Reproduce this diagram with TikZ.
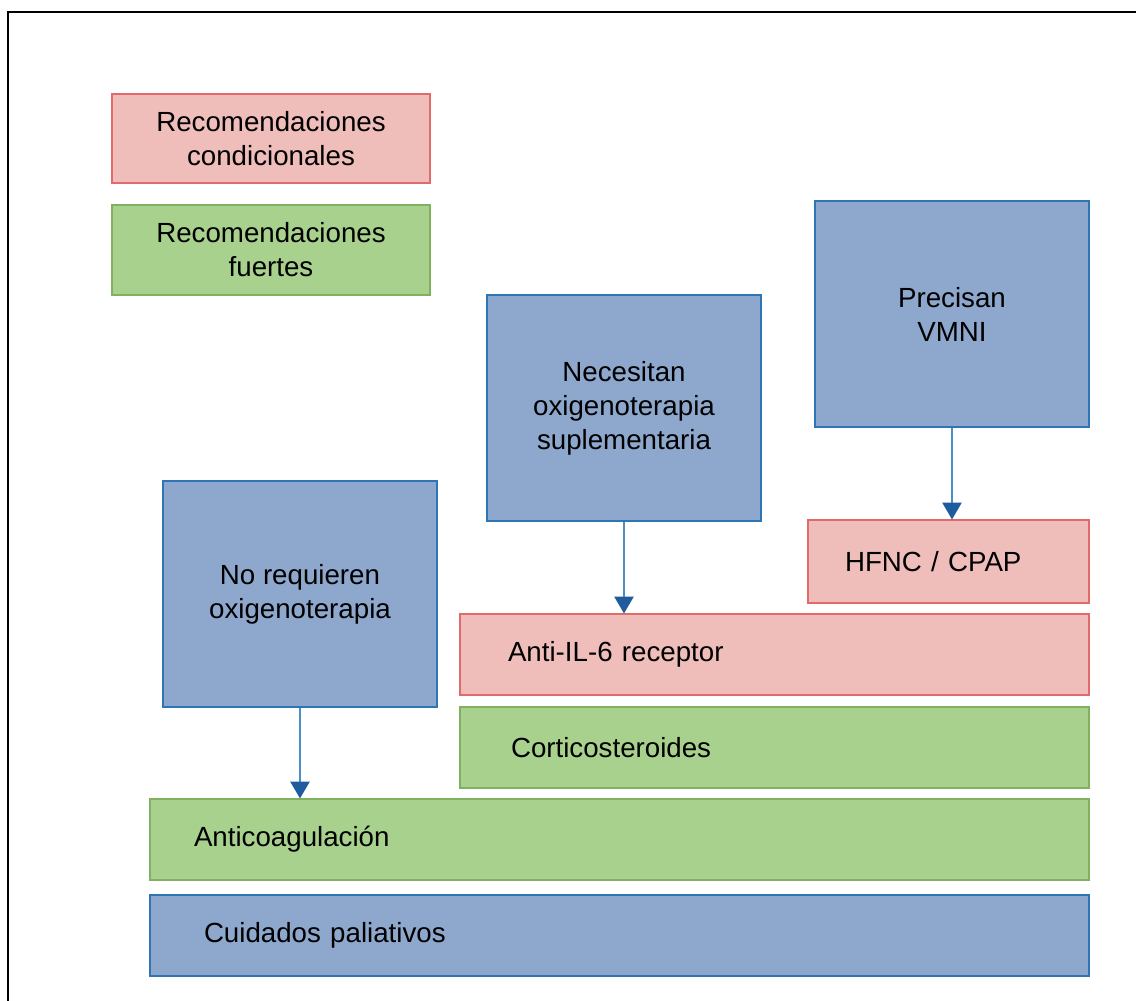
\documentclass[tikz,border=0pt]{standalone}
\usepackage{fontspec}
\setmainfont{Liberation Sans}
\usetikzlibrary{arrows.meta,positioning}

\definecolor{condfill}{HTML}{EFBEBA}
\definecolor{conddraw}{HTML}{E36A6A}
\definecolor{strongfill}{HTML}{A9D18E}
\definecolor{strongdraw}{HTML}{80B060}
\definecolor{groupfill}{HTML}{8EA7CC}
\definecolor{groupdraw}{HTML}{2E75B6}
\definecolor{arrowline}{HTML}{4A90C8}
\definecolor{arrowhead}{HTML}{1F5C9E}

\tikzset{
  box/.style={rectangle,line width=0.8pt,inner sep=0pt,align=center,
    font=\fontsize{19.7pt}{24.2pt}\selectfont},
  cond/.style={box,fill=condfill,draw=conddraw},
  strong/.style={box,fill=strongfill,draw=strongdraw},
  group/.style={box,fill=groupfill,draw=groupdraw,minimum width=6.85cm,minimum height=5.65cm},
  bar/.style 2 args={text width=#1,inner xsep=#2,align=left,minimum height=2.025cm},
  arrow/.style={-{Triangle[length=4.2mm,width=4.8mm,color=arrowhead]},
    draw=arrowline,line width=1.2pt}
}

\begin{document}
\begin{tikzpicture}

  \useasboundingbox (0,0) rectangle (28.4,-25.025);
  \draw[line width=0.8pt] (0.2,-25.025) |- (28.4,-0.3);

  % legend
  \node[cond,minimum width=7.95cm,minimum height=2.225cm] (cond) at (6.775,-3.4625)
    {Recomendaciones\\condicionales};
  \node[strong,minimum width=7.95cm,minimum height=2.25cm] (strong) at (6.775,-6.25)
    {Recomendaciones\\fuertes};

  % patient groups
  \node[group] (vmni)  at (23.8,-7.85)  {Precisan\\VMNI};
  \node[group] (necs)  at (15.6,-10.2)  {Necesitan\\oxigenoterapia\\suplementaria};
  \node[group] (noreq) at (7.5,-14.85)  {No requieren\\oxigenoterapia};

  % treatments
  \node[cond,bar={5.175cm}{0.925cm},minimum height=2.075cm] (hfnc) at (23.7125,-14.0375) {HFNC / CPAP};
  \node[cond,bar={13.325cm}{1.2cm}]   (antiil) at (19.3625,-16.3625) {Anti-IL-6 receptor};
  \node[strong,bar={13.175cm}{1.275cm}] (cort) at (19.3625,-18.6875) {Corticosteroides};
  \node[strong,bar={21.275cm}{1.1cm}]  (antic) at (15.4875,-20.9875) {Anticoagulación};
  \node[group,bar={20.775cm}{1.35cm},minimum width=0pt] (cuid) at (15.4875,-23.3875) {Cuidados paliativos};

  \draw[arrow] (vmni.south)  -- (vmni.south |- hfnc.north);
  \draw[arrow] (necs.south)  -- (necs.south |- antiil.north);
  \draw[arrow] (noreq.south) -- (noreq.south |- antic.north);

\end{tikzpicture}
\end{document}
